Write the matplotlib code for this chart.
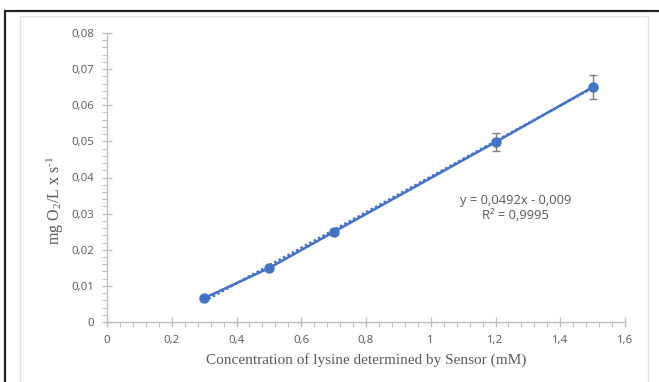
import matplotlib.pyplot as plt
from matplotlib.patches import Rectangle
from matplotlib.ticker import MultipleLocator, FuncFormatter

lysine = [0.3, 0.5, 0.7, 1.2, 1.5]
rate = [0.0066, 0.0149, 0.0249, 0.0498, 0.065]
rate_err = [0.0003, 0.0003, 0.0009, 0.0026, 0.0033]
slope = 0.0492
intercept = -0.009

blue = "#4472C4"
grey = "#595959"

plt.rcParams["mathtext.fontset"] = "custom"
plt.rcParams["mathtext.rm"] = "Liberation Serif"
plt.rcParams["mathtext.it"] = "Liberation Serif:italic"

fig = plt.figure(figsize=(6.59, 3.82), dpi=100)

# outer frame and inner chart area border
fig.patches.append(Rectangle((5 / 659, -0.1), 1.0, 1 - 11 / 382 + 0.1,
                             transform=fig.transFigure, fill=False,
                             edgecolor="#222222", linewidth=1.6))
fig.patches.append(Rectangle((20 / 659, -0.1), 628 / 659, 1 - 16 / 382 + 0.1,
                             transform=fig.transFigure, fill=False,
                             edgecolor="#e3e3e3", linewidth=1.0))

ax = fig.add_axes([107 / 659, 1 - 322 / 382, 518 / 659, 289 / 382])

ax.errorbar(lysine, rate, yerr=rate_err, color=blue, ecolor="#7f7f7f",
            elinewidth=1.0, capsize=3, capthick=1.0, marker="o",
            markersize=6.5, linewidth=1.8, zorder=3)

fit_x = [lysine[0], lysine[-1]]
fit_y = [slope * v + intercept for v in fit_x]
ax.plot(fit_x, fit_y, color=blue, linestyle=(0, (1, 1)), linewidth=1.8, zorder=2)

ax.text(1.263, 0.0316, "y = 0,0492x - 0,009\nR² = 0,9995", ha="center",
        va="center", fontsize=9.3, color=grey, linespacing=1.25,
        family="Open Sans")

ax.set_xlim(0, 1.6)
ax.set_ylim(0, 0.08)
ax.xaxis.set_major_locator(MultipleLocator(0.2))
ax.xaxis.set_minor_locator(MultipleLocator(0.04))
ax.yaxis.set_major_locator(MultipleLocator(0.01))
ax.yaxis.set_minor_locator(MultipleLocator(0.002))

ax.xaxis.set_major_formatter(FuncFormatter(
    lambda v, p: f"{v:.1f}".rstrip("0").rstrip(".").replace(".", ",") if v else "0"))
ax.yaxis.set_major_formatter(FuncFormatter(
    lambda v, p: f"{v:.2f}".replace(".", ",") if v else "0"))

for side in ["top", "right"]:
    ax.spines[side].set_visible(False)
for side in ["left", "bottom"]:
    ax.spines[side].set_color("#bfbfbf")
    ax.spines[side].set_linewidth(1.0)

ax.tick_params(which="major", direction="inout", length=7, width=1.0,
               color="#bfbfbf", labelsize=8.2, labelcolor=grey, pad=6)
ax.tick_params(which="minor", direction="out", length=3.5, width=0.8,
               color="#bfbfbf")
for lab in ax.get_xticklabels() + ax.get_yticklabels():
    lab.set_family("Open Sans")

ax.set_xlabel("Concentration of lysine determined by Sensor (mM)",
              family="Liberation Serif", fontsize=11, color=grey, labelpad=5)
ax.set_ylabel(r"mg O$_2$/L x s$^{\text{-}1}$", family="Liberation Serif",
              fontsize=11.5, color=grey)
ax.yaxis.set_label_coords(-0.08, 0.42)

fig.savefig("out.png", dpi=100)
